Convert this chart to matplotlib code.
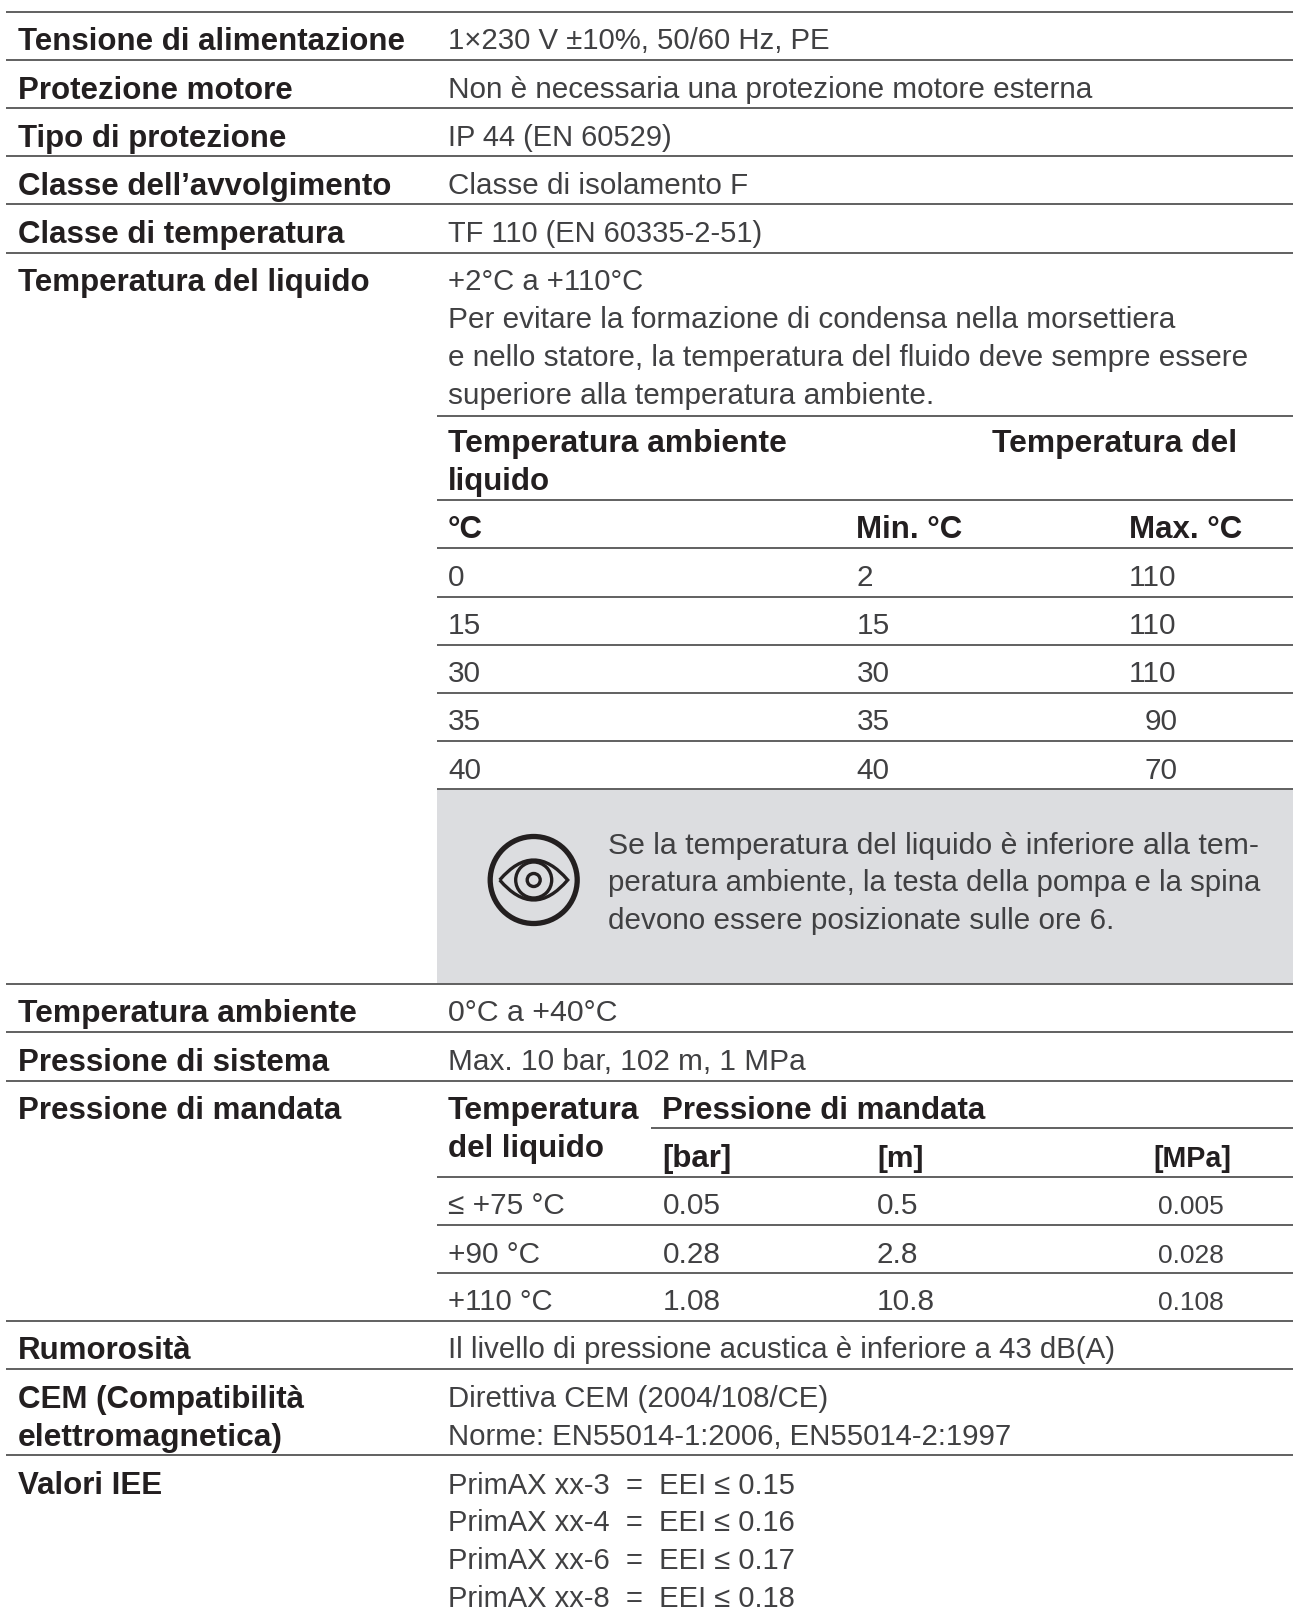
import matplotlib

matplotlib.use("Agg")
import matplotlib.pyplot as plt
from matplotlib.patches import Circle, PathPatch, Rectangle
from matplotlib.path import Path

W, H = 1293, 1610
INK = "#231f20"
SOFT = "#404042"
RULE = "#606060"
FS_BOLD = 22.5
FS_REG = 21.4
FS_SMALL = 19.0
LEADING = 37.8
DROP = 37.7  # first baseline below a rule

# ----- text content -----
simple_labels = ["Tensione di alimentazione", "Protezione motore", "Tipo di protezione",
                 "Classe dell’avvolgimento", "Classe di temperatura"]
simple_values = ["1×230 V ±10%, 50/60 Hz, PE",
                 "Non è necessaria una protezione motore esterna",
                 "IP 44 (EN 60529)",
                 "Classe di isolamento F",
                 "TF 110 (EN 60335-2-51)"]
liquid_notes = ["+2°C a +110°C",
                "Per evitare la formazione di condensa nella morsettiera",
                "e nello statore, la temperatura del fluido deve sempre essere",
                "superiore alla temperatura ambiente."]
ambient_c = ["0", "15", "30", "35", "40"]
liquid_min = ["2", "15", "30", "35", "40"]
liquid_max = ["110", "110", "110", "90", "70"]
eye_note = ["Se la temperatura del liquido è inferiore alla tem-",
            "peratura ambiente, la testa della pompa e la spina",
            "devono essere posizionate sulle ore 6."]
middle_labels = ["Temperatura ambiente", "Pressione di sistema"]
middle_values = ["0°C a +40°C", "Max. 10 bar, 102 m, 1 MPa"]
delivery_temp = ["≤ +75 °C", "+90 °C", "+110 °C"]
delivery_bar = ["0.05", "0.28", "1.08"]
delivery_m = ["0.5", "2.8", "10.8"]
delivery_mpa = ["0.005", "0.028", "0.108"]
emc_notes = ["Direttiva CEM (2004/108/CE)", "Norme: EN55014-1:2006, EN55014-2:1997"]
eei_notes = ["PrimAX xx-3  =  EEI ≤ 0.15", "PrimAX xx-4  =  EEI ≤ 0.16",
             "PrimAX xx-6  =  EEI ≤ 0.17", "PrimAX xx-8  =  EEI ≤ 0.18"]

# ----- layout in reference pixels -----
X_LEFT, X_VAL = 18, 448
X_MIN, X_MAX = 856.5, 1128.7
X_BAR, X_M, X_MPA = 662.4, 877, 1158
full_rules = [11.7, 59.9, 108.1, 156.3, 204.5, 252.7, 983.5, 1032, 1080.5,
              1320.7, 1369, 1455]
sub_rules = [416, 500, 548.5, 597, 645, 693, 741.5, 789, 1176.7, 1225, 1272.7]
# the original set some lines tighter or looser than the body size
simple_sizes = [21.2, FS_REG, 20.9, 21.3, 20.85]
eye_sizes = [21.8, 21.17, 21.35]


def main() -> None:
    plt.rcParams["font.family"] = ["Liberation Sans", "DejaVu Sans"]
    fig = plt.figure(figsize=(W / 100, H / 100), dpi=100)
    ax = fig.add_axes([0, 0, 1, 1])
    ax.set_xlim(0, W)
    ax.set_ylim(H, 0)
    ax.axis("off")

    def bold(x, y, s, size=FS_BOLD):
        ax.text(x, y + 1, s, fontsize=size, fontweight="bold", color=INK, va="baseline")

    def reg(x, y, s, size=FS_REG):
        ax.text(x, y, s, fontsize=size, color=SOFT, va="baseline")

    ax.add_patch(Rectangle((437, 789), W - 437, 983.5 - 789, fc="#dcdde0", ec="none", zorder=0))
    for y in full_rules:
        ax.plot([6, W], [y, y], color=RULE, lw=1.4, solid_capstyle="butt")
    for y in sub_rules:
        ax.plot([437, W], [y, y], color=RULE, lw=1.4, solid_capstyle="butt")
    ax.plot([651, W], [1128, 1128], color=RULE, lw=1.4, solid_capstyle="butt")

    # simple rows
    for i, (lab, val) in enumerate(zip(simple_labels, simple_values)):
        bold(X_LEFT, full_rules[i] + DROP, lab)
        reg(X_VAL, full_rules[i] + DROP, val, simple_sizes[i])

    # liquid temperature block
    bold(X_LEFT, 252.7 + DROP, "Temperatura del liquido")
    for i, s in enumerate(liquid_notes):
        reg(X_VAL, 252.7 + DROP + i * LEADING, s, 21.1 if i == 0 else FS_REG)
    bold(X_VAL, 413 + DROP, "Temperatura ambiente", 22.9)
    bold(992, 413 + DROP, "Temperatura del", 22.9)
    bold(X_VAL, 413 + DROP + LEADING, "liquido")
    bold(X_VAL, 499 + DROP, "°C")
    bold(X_MIN, 499 + DROP, "Min. °C")
    bold(X_MAX, 499 + DROP, "Max. °C")
    for i in range(len(ambient_c)):
        y = sub_rules[2 + i] + DROP - 0.7
        reg(X_VAL, y, ambient_c[i])
        reg(X_MIN, y, liquid_min[i])
        reg(X_MAX if len(liquid_max[i]) == 3 else 1145, y, liquid_max[i])

    # eye note
    for y, s, size in zip([853.5, 891, 928.5], eye_note, eye_sizes):
        reg(608, y, s, size)
    cx, cy = 533.7, 880
    ax.add_patch(Circle((cx, cy), 43.5, fc="none", ec=INK, lw=3.8))
    ax.add_patch(Circle((cx, cy), 18, fc="none", ec=INK, lw=2.4))
    ax.add_patch(Circle((cx, cy), 6.5, fc="none", ec=INK, lw=2.4))
    almond = Path([(cx - 34, cy), (cx, cy - 40), (cx + 34, cy), (cx, cy + 40), (cx - 34, cy)],
                  [Path.MOVETO, Path.CURVE3, Path.CURVE3, Path.CURVE3, Path.CURVE3])
    ax.add_patch(PathPatch(almond, fc="none", ec=INK, lw=2.4))

    # ambient and system pressure
    for i, (lab, val) in enumerate(zip(middle_labels, middle_values)):
        bold(X_LEFT, full_rules[6 + i] + DROP, lab, 22.9 if i == 0 else FS_BOLD)
        reg(X_VAL, full_rules[6 + i] + DROP, val, 21.8 if i == 0 else FS_REG)

    # delivery pressure block
    bold(X_LEFT, 1080.5 + DROP, "Pressione di mandata")
    bold(X_VAL, 1080.5 + DROP, "Temperatura", 23.0)
    bold(X_VAL, 1080.5 + DROP + LEADING, "del liquido")
    bold(X_BAR, 1080.5 + DROP, "Pressione di mandata")
    bold(X_BAR, 1128 + DROP, "[bar]")
    bold(X_M, 1128 + DROP, "[m]", 21.5)
    bold(1153, 1128 + DROP, "[MPa]", 20.6)
    for i in range(len(delivery_temp)):
        y = sub_rules[8 + i] + DROP
        reg(X_VAL, y, delivery_temp[i], 21.1 if i == 2 else FS_REG)
        reg(X_BAR, y, delivery_bar[i])
        reg(X_M, y, delivery_m[i])
        reg(X_MPA, y, delivery_mpa[i], FS_SMALL)

    # bottom rows
    bold(X_LEFT, 1320.7 + DROP, "Rumorosità")
    reg(X_VAL, 1320.7 + DROP, "Il livello di pressione acustica è inferiore a 43 dB(A)", 21.17)
    bold(X_LEFT, 1369 + DROP, "CEM (Compatibilità")
    bold(X_LEFT, 1369 + DROP + LEADING, "elettromagnetica)", 22.9)
    for i, s in enumerate(emc_notes):
        reg(X_VAL, 1369 + DROP + i * LEADING, s, 21.13)
    bold(X_LEFT, 1455 + DROP, "Valori IEE")
    for i, s in enumerate(eei_notes):
        reg(X_VAL, 1456 + DROP + i * 37.6, s, 21.0)

    fig.savefig("out.png", dpi=100)
    plt.close(fig)


if __name__ == "__main__":
    main()
